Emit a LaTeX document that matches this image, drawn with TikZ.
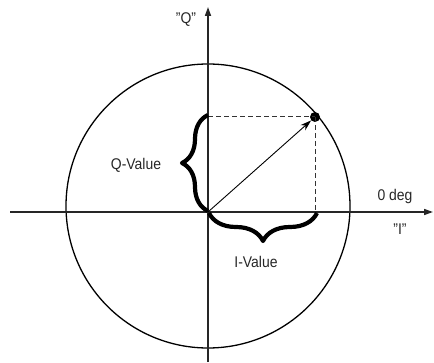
\documentclass[tikz,border=0pt]{standalone}
\usepackage{fontspec}
\setmainfont{Liberation Sans}
\usetikzlibrary{arrows.meta,decorations.pathreplacing}
\tikzset{
  axis/.style={line width=1.6pt, black!85, -{Triangle[length=9pt,width=6pt]}},
  ring/.style={line width=1.3pt},
  guide/.style={line width=1pt, dash pattern=on 5pt off 3pt, black!80},
  vec/.style={line width=0.9pt, -{Stealth[length=11pt,width=7pt]}},
  bracket/.style={line width=4.2pt, line join=round, decorate, decoration={brace, amplitude=#1}},
  lab/.style={font=\fontsize{15.5}{18}\selectfont, text=black!85, xscale=0.9, inner sep=0pt},
  dotstyle/.style={circle, fill=black, inner sep=0pt, minimum size=10pt}
}
\begin{document}
\begin{tikzpicture}[x=1pt,y=1pt]
\useasboundingbox (0,0) rectangle (434,362);
\coordinate (O) at (208,150);
\coordinate (C) at (208,156);
\coordinate (xs) at (10,150);
\coordinate (xe) at (433,150);
\coordinate (ys) at (208,0);
\coordinate (ye) at (208,355);
\coordinate (qtop) at (208,245);
\coordinate (ifoot) at (315,150);
% circle
\draw[ring] (C) circle[radius=142];
% axes
\draw[axis] (xs) -- (xe);
\draw[axis] (ys) -- (ye);
% point
\node[dotstyle] (P) at (315,245) {};
% dashed projections
\draw[guide] (qtop) -- (P.center);
\draw[guide] (P.center) -- (ifoot);
% vector
\draw[vec] (O) -- (P);
% braces
\draw[bracket=26pt] (208,151) -- (208,247);
\draw[bracket=28pt] (317,149) -- (209,149);
% labels
\node[lab] (qlab) at (186,342) {\char34 Q\char34};
\node[lab] (deg) at (395,166) {0 deg};
\node[lab] (ilab) at (400,133) {\char34 I\char34};
\node[lab] (qval) at (136,197) {Q-Value};
\node[lab] (ival) at (256,100) {I-Value};
\end{tikzpicture}
\end{document}
